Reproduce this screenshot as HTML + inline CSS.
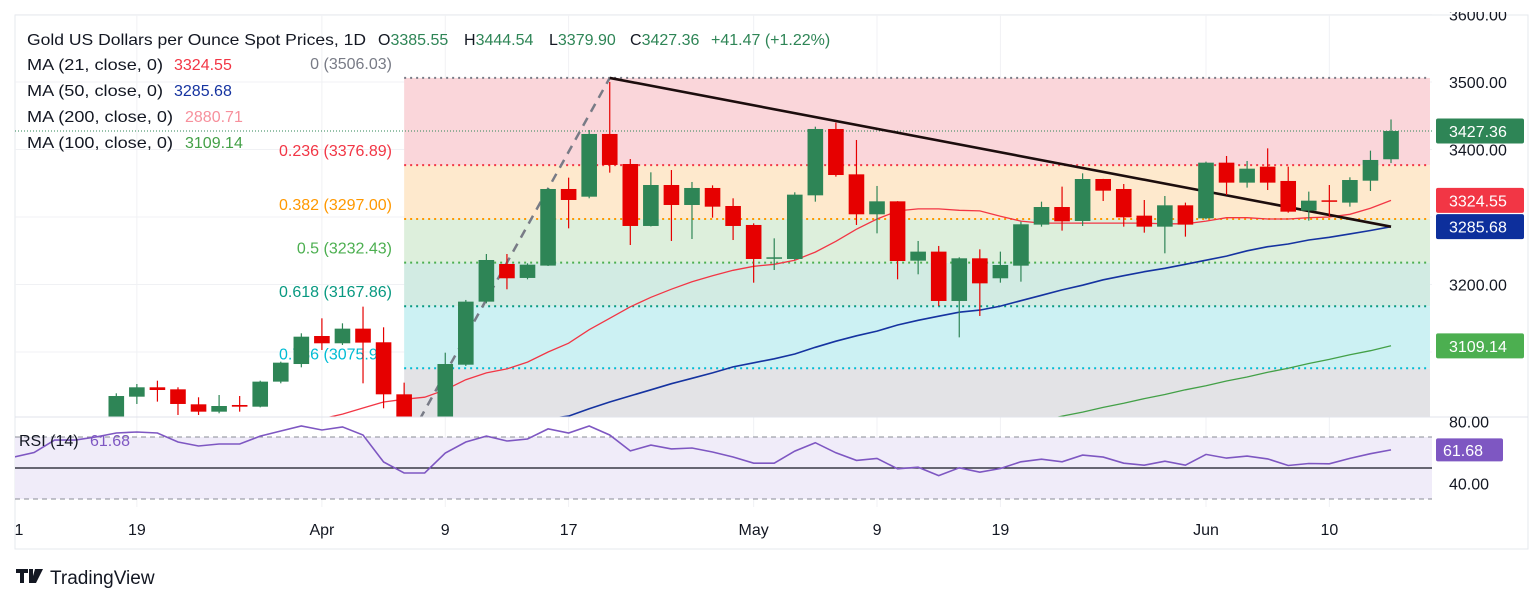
<!DOCTYPE html>
<html><head><meta charset="utf-8"><title>Gold Spot Chart</title>
<style>
html,body{margin:0;padding:0;background:#fff;}
svg{display:block;font-family:"Liberation Sans",sans-serif;}
</style></head>
<body>
<svg id="chart" width="1536" height="602" viewBox="0 0 1536 602" xmlns="http://www.w3.org/2000/svg">
  <defs>
    <clipPath id="pclip"><rect x="15" y="15" width="1417" height="402"/></clipPath>
    <clipPath id="rclip"><rect x="15" y="418" width="1417" height="90"/></clipPath>
  </defs>
  <rect x="15" y="15" width="1513" height="534" fill="#fff" stroke="#e6e8ee"/>
  <g id="grid"></g>
  <g id="fib" clip-path="url(#pclip)"></g>
  <g id="fiblabels"></g>
  <g id="lines" clip-path="url(#pclip)"></g>
  <g id="candles" clip-path="url(#pclip)"></g>
  <g id="rsi"></g>
  <line x1="15" y1="417" x2="1528" y2="417" stroke="#e0e3eb"/>
  <g id="axes"></g>

  <g font-size="16" fill="#131722">
    <text x="27" y="45" textLength="339" lengthAdjust="spacingAndGlyphs">Gold US Dollars per Ounce Spot Prices, 1D</text>
    <text y="45"><tspan x="378">O</tspan><tspan fill="#2e8556">3385.55</tspan><tspan x="464">H</tspan><tspan fill="#2e8556">3444.54</tspan><tspan x="549">L</tspan><tspan fill="#2e8556">3379.90</tspan><tspan x="630">C</tspan><tspan fill="#2e8556">3427.36</tspan><tspan x="711" fill="#2e8556">+41.47 (+1.22%)</tspan></text>
    <text x="27" y="70"><tspan textLength="136" lengthAdjust="spacingAndGlyphs">MA (21, close, 0)</tspan><tspan x="174" fill="#f23645">3324.55</tspan></text>
    <text x="27" y="96"><tspan textLength="136" lengthAdjust="spacingAndGlyphs">MA (50, close, 0)</tspan><tspan x="174" fill="#1533a0">3285.68</tspan></text>
    <text x="27" y="122"><tspan textLength="146" lengthAdjust="spacingAndGlyphs">MA (200, close, 0)</tspan><tspan x="185" fill="#f7909c">2880.71</tspan></text>
    <text x="27" y="148"><tspan textLength="146" lengthAdjust="spacingAndGlyphs">MA (100, close, 0)</tspan><tspan x="185" fill="#43a047">3109.14</tspan></text>
  </g>

  <g>
    <path d="M16 569 h12 v4 h-4 v10 h-4 v-10 h-4 z M29 569 h4 v14 h-4 z M35 569 h8 l-7 14 h-5 z" fill="#131722"/>
    <text x="50" y="584" font-size="19" fill="#131722">TradingView</text>
  </g>
</svg>

<script>
// ---------- data ----------
const opens = [2995,3033.8,3047.7,3044.7,3022.5,3011.6,3021.5,3019.0,3056.1,3082.2,3123.7,3112.9,3134.6,3114.4,3037.3,2984.0,2982.0,3081.2,3174.6,3230.4,3209.7,3228.0,3341.5,3330.1,3423.0,3378.5,3286.7,3347.4,3317.8,3343.0,3316.3,3288.2,3238.3,3237.8,3332.1,3430.4,3363.2,3304.0,3323.2,3235.3,3248.7,3175.6,3238.8,3209.2,3227.9,3288.7,3314.8,3294.1,3356.3,3341.5,3302.0,3285.7,3317.3,3298.0,3380.5,3350.9,3374.6,3353.4,3309.4,3324.7,3321.3,3353.8,3385.55];
const highs = [3038.8,3052.6,3057.5,3047.7,3032.9,3036.3,3034.8,3057.5,3085.7,3127.7,3149.9,3142.5,3167.2,3136.6,3054.6,3000.0,3099.0,3177.1,3245.2,3245.2,3231.4,3342.5,3358.3,3428.9,3500.1,3385.9,3366.2,3369.6,3351.9,3346.9,3327.7,3290.6,3268.4,3336.6,3433.8,3439.8,3414.1,3346.0,3323.5,3264.5,3257.1,3240.3,3252.1,3248.7,3293.1,3322.7,3345.0,3364.7,3356.5,3348.9,3325.2,3331.1,3321.3,3382.0,3390.4,3383.0,3401.7,3374.6,3337.6,3347.4,3358.8,3398.3,3444.54];
const lows = [2990,3023.0,3026.5,3006.7,3006.7,3009.2,3011.6,3018.0,3053.6,3077.3,3103.0,3110.4,3053.6,3016.6,2956.0,2970.0,2957.0,3079.3,3172.1,3192.9,3207.7,3227.4,3283.2,3327.7,3365.7,3258.5,3286.0,3264.5,3267.4,3299.0,3265.9,3202.7,3221.5,3236.3,3322.7,3359.8,3288.2,3275.8,3207.7,3215.1,3168.2,3121.7,3153.4,3202.7,3204.2,3285.7,3279.8,3286.7,3323.7,3285.7,3276.8,3246.2,3270.9,3296.6,3332.6,3343.5,3340.0,3306.4,3294.6,3300.5,3315.3,3338.5,3379.90];
const closes = [3034.8,3047.7,3043.7,3023.0,3011.6,3020.0,3019.0,3056.1,3084.2,3122.7,3112.9,3134.6,3113.9,3037.3,2983.0,2982.0,3082.2,3174.6,3236.3,3209.2,3229.4,3341.5,3325.2,3423.0,3377.1,3286.7,3347.4,3317.8,3343.0,3315.3,3286.7,3237.8,3240.3,3333.1,3430.4,3362.2,3304.0,3323.2,3234.8,3248.7,3175.6,3238.8,3201.7,3228.9,3289.2,3314.8,3293.6,3356.3,3339.0,3299.5,3285.7,3317.3,3288.7,3380.5,3350.9,3371.6,3350.9,3307.9,3324.2,3322.7,3354.8,3384.5,3427.36];
const ma21 = [2958,2963,2967,2972,2975,2980,2984,2987,2992,2996,3001,3008,3017,3026,3030,3033,3044,3059,3069,3075,3085,3100,3113,3133,3150,3167,3181,3193,3204,3213,3221,3227,3230,3236,3248,3264,3282,3297,3309,3312,3312,3310,3309,3301,3294,3291,3291,3291,3291,3291,3291,3290,3290,3294,3299,3299,3297,3297,3299,3300,3304,3313,3324.55];
const ma50 = [2930,2932,2935,2937,2940,2943,2946,2949,2952,2955,2958,2962,2965,2969,2972,2976,2980,2984,2989,2993,2997,3001,3005,3016,3026,3035,3044,3053,3061,3069,3078,3084,3090,3097,3107,3116,3124,3131,3140,3147,3153,3159,3162,3168,3176,3184,3192,3199,3207,3213,3219,3224,3230,3236,3242,3250,3256,3260,3266,3270,3275,3280,3285.68];
const ma100 = [null,null,null,null,null,null,null,null,null,null,null,null,null,null,null,null,null,null,null,null,null,null,null,null,null,null,null,null,null,null,null,null,null,null,null,null,null,null,null,null,null,null,null,null,2992,2998,3005,3011,3018,3024,3031,3037,3044,3050,3057,3063,3070,3076,3083,3089,3096,3102,3109.14];
const rsiPre = [57,60,68,68,70];
const rsiVals = [72.6,73.2,72.6,66.8,64.2,65.5,65.5,70.6,73.9,77.1,74.5,76.5,71.3,53.9,46.8,46.8,59.7,66.8,70.6,67.4,68.7,75.2,72.6,77.1,71.3,61.0,64.8,62.3,62.9,60.3,57.1,53.1,53.1,60.9,66.3,59.8,54.9,56.2,49.5,50.5,45.1,50.1,47.3,49.7,54.0,55.7,54.0,58.3,57.0,53.1,51.8,54.4,51.8,58.8,56.4,57.7,55.9,51.6,52.9,52.7,56.2,59.2,61.68];
const fibRatios = [0,0.236,0.382,0.5,0.618,0.786,1];
const fibLevelPrices = [3506.03,3376.89,3297.00,3232.43,3167.86,3075.91,2958.8];
const fibLabelText = ["0 (3506.03)","0.236 (3376.89)","0.382 (3297.00)","0.5 (3232.43)","0.618 (3167.86)","0.786 (3075.91)"];
const fibHighIdx = 24, fibLowIdx = 14;
const trendStart = [24, 3506.03];
const trendEnd = [62, 3285.68];
const priceTicks = [3600,3500,3400,3300,3200,3100];
const priceTickLabels = ["3600.00","3500.00","3400.00",null,"3200.00",null];
const rsiTicks = [80,40];
const rsiTickLabels = ["80.00","40.00"];
const dateIdx = [-10,1,10,16,22,31,37,43,53,59];
const dateLabels = ["1","19","Apr","9","17","May","9","19","Jun","10"];
const lastValues = [3427.36,3324.55,3285.68,3109.14];
const lastLabels = ["3427.36","3324.55","3285.68","3109.14"];

// ---------- scales ----------
const NS = "http://www.w3.org/2000/svg";
const xOf = i => 116.3 + i * 20.56;
const yP = p => 82 + (3500 - p) * 0.675;
const yR = r => 468 - (r - 50) * 1.55;
function mk(tag, attrs, parent){const e=document.createElementNS(NS,tag);for(const k in attrs)e.setAttribute(k,attrs[k]);parent.appendChild(e);return e;}
const G = id => document.getElementById(id);

// grid
const grid = G('grid');
dateIdx.forEach(i=>{
  const el = mk('line',{x1:xOf(i),x2:xOf(i),y1:15,y2:507,stroke:'#f0f1f4'},grid);
  
  
});
priceTicks.forEach(p=>{
  const el = mk('line',{x1:15,x2:1432,y1:yP(p),y2:yP(p),stroke:'#f0f1f4'},grid);
  
  
});

// fib
const fib = G('fib');
const fibFill = ['#fad6da','#fee9cd','#ddefdc','#d2ebe3','#ccf1f3','#e3e3e6'];
const fibLine = ['#787b86','#f23645','#ff9800','#4caf50','#089981','#00bcd4','#787b86'];
const fibTextCol = ['#787b86','#f23645','#ff9800','#4caf50','#089981','#00bcd4'];
const fx1 = xOf(fibLowIdx), fx2 = 1430;
for(let k=0;k<fibLevelPrices.length-1;k++){
  const ya=yP(fibLevelPrices[k]), yb=yP(fibLevelPrices[k+1]);
  const el = mk('rect',{x:fx1,y:ya,width:fx2-fx1,height:yb-ya,fill:fibFill[k]},fib);
  
  
}
fibLevelPrices.forEach((p,k)=>{
  const y=yP(p);
  const el = mk('line',{x1:fx1,x2:fx2,y1:y,y2:y,stroke:fibLine[k],'stroke-width':2,'stroke-dasharray':'2 4'},fib);
  
  
});
const fl = G('fiblabels');
fibLabelText.forEach((s,k)=>{
  const t = mk('text',{x:392,y:yP(fibLevelPrices[k])-9,'text-anchor':'end','font-size':16,fill:fibTextCol[k]},fl);
  t.textContent = s;
  
  
});
const fa = mk('line',{x1:xOf(fibLowIdx),y1:yP(fibLevelPrices[6]),x2:xOf(fibHighIdx),y2:yP(fibLevelPrices[0]),stroke:'#787b86','stroke-width':2.5,'stroke-dasharray':'9 7'},fib);



// last price dotted line
const lines = G('lines');
const lp = mk('line',{x1:15,x2:1432,y1:yP(closes[closes.length-1]),y2:yP(closes[closes.length-1]),stroke:'#2e8556','stroke-dasharray':'1 2'},lines);



function poly(arr, color, w, name){
  const pts=[];arr.forEach((v,i)=>{if(v!==null)pts.push(xOf(i).toFixed(1)+','+yP(v).toFixed(1));});
  const el = mk('polyline',{points:pts.join(' '),fill:'none',stroke:color,'stroke-width':w},lines);
  
  
}
poly(ma100,'#43a047',1.3,'ma100-line');
poly(ma50,'#1533a0',1.6,'ma50-line');
poly(ma21,'#f23645',1.3,'ma21-line');
const tl = mk('line',{x1:xOf(trendStart[0]),y1:yP(trendStart[1]),x2:xOf(trendEnd[0]),y2:yP(trendEnd[1]),stroke:'#1c0d0d','stroke-width':2.6},lines);



// candles
const cg = G('candles');
opens.forEach((o,i)=>{
  const c=closes[i], up=c>=o, col=up?'#2e8556':'#e60000', x=xOf(i);
  const w = mk('line',{x1:x,x2:x,y1:yP(highs[i]),y2:yP(lows[i]),stroke:col,'stroke-width':1.2},cg);
  
  
  const top=yP(Math.max(o,c)), bot=yP(Math.min(o,c));
  const b = mk('rect',{x:x-7.8,y:top,width:15.6,height:Math.max(1.5,bot-top),fill:col},cg);
  
  
});

// RSI
const rg = G('rsi');
const band = mk('rect',{x:15,y:yR(70),width:1417,height:yR(30)-yR(70),fill:'#f0ecf9'},rg);


[70,30].forEach(v=>{
  const el = mk('line',{x1:15,x2:1432,y1:yR(v),y2:yR(v),stroke:'#8a8d96','stroke-dasharray':'5 4'},rg);
  
  
});
const mid = mk('line',{x1:15,x2:1432,y1:yR(50),y2:yR(50),stroke:'#131722','stroke-width':1.3},rg);


const rpts=[];
rsiPre.forEach((v,k)=>rpts.push(xOf(k-rsiPre.length).toFixed(1)+','+yR(v).toFixed(1)));
rsiVals.forEach((v,i)=>rpts.push(xOf(i).toFixed(1)+','+yR(v).toFixed(1)));
const rl = mk('polyline',{points:rpts.join(' '),fill:'none',stroke:'#7e57c2','stroke-width':1.6,'clip-path':'url(#rclip)'},rg);


const rt = mk('text',{x:19,y:446,'font-size':16,fill:'#131722'},rg);
rt.textContent='RSI (14)';


const rv = mk('text',{x:90,y:446,'font-size':16,fill:'#7e57c2'},rg);
rv.textContent=rsiVals[rsiVals.length-1].toFixed(2);



// axes
const ax = G('axes');
priceTicks.forEach((p,k)=>{
  if(!priceTickLabels[k])return;
  const t = mk('text',{x:1449,y:yP(p)+6,'font-size':16,fill:'#131722'},ax);
  t.textContent=priceTickLabels[k];
  
  
});
rsiTicks.forEach((v,k)=>{
  const t = mk('text',{x:1449,y:yR(v)+6,'font-size':16,fill:'#131722'},ax);
  t.textContent=rsiTickLabels[k];
  
  
});
const cover = mk('rect',{x:1432,y:0,width:104,height:12,fill:'#fff'},ax);


const boxCols=['#2e8556','#f23645','#0d2f9c','#4caf50'];
lastValues.forEach((v,k)=>{
  const y=yP(v);
  const r = mk('rect',{x:1436,y:y-12.5,width:88,height:25,rx:2,fill:boxCols[k]},ax);
  
  
  const t = mk('text',{x:1449,y:y+6,'font-size':16,fill:'#fff'},ax);
  t.textContent=lastLabels[k];
  
  
});
const rb = mk('rect',{x:1436,y:yR(61.68)-11.5,width:67,height:23,rx:2,fill:'#7e57c2'},ax);


const rbt = mk('text',{x:1443,y:yR(61.68)+6,'font-size':16,fill:'#fff'},ax);
rbt.textContent='61.68';


dateIdx.forEach((i,k)=>{
  const t = mk('text',{x:Math.max(xOf(i),19),y:535,'font-size':16,'text-anchor':'middle',fill:'#131722'},ax);
  t.textContent=dateLabels[k];
  
  
});
</script>
</body></html>
